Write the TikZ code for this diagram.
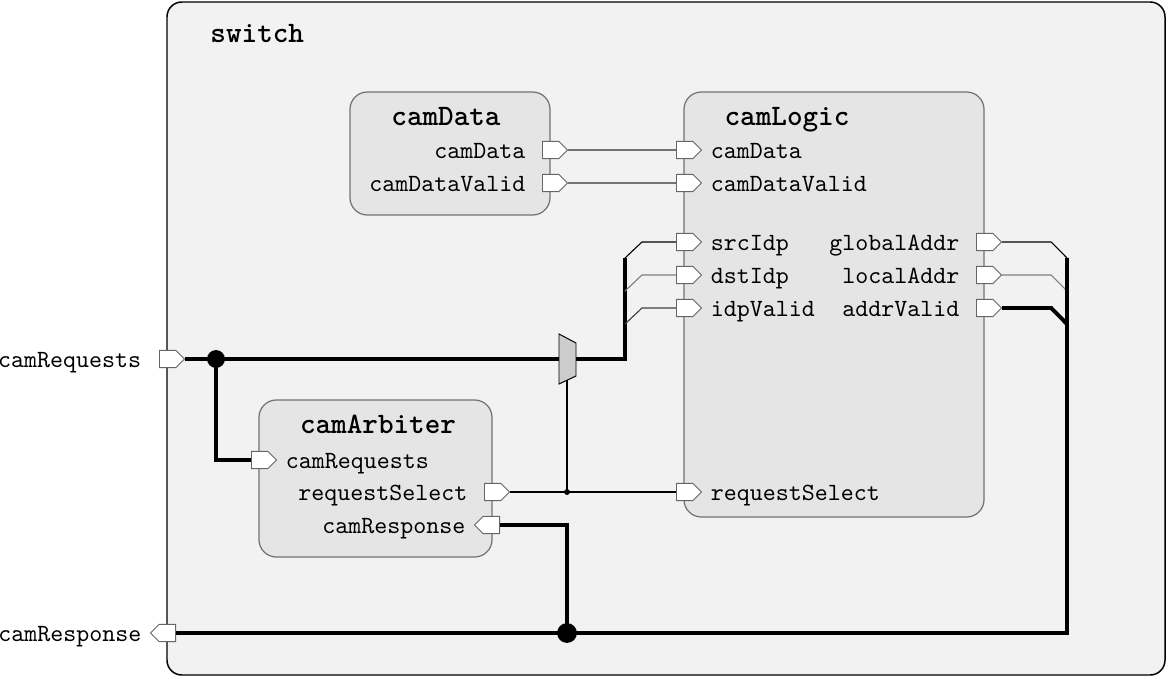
\documentclass[tikz,border=0pt]{standalone}
\usetikzlibrary{shapes.symbols,positioning}

\begin{document}
\begin{tikzpicture}[x=0.404pt,y=-0.404pt,
  font=\ttfamily,
  top/.style = {draw=black, fill=black!5, rounded corners=6pt, line width=0.6pt},
  block/.style = {draw=black!55, fill=black!10, rounded corners=7pt, line width=0.5pt},
  title/.style = {font=\ttfamily\bfseries\large, inner sep=0pt, text height=8pt, text depth=2pt},
  lbl/.style = {inner sep=0pt, text height=6.9pt, text depth=0pt},
  portR/.style = {signal, signal to=east, draw=black!60, fill=white, line width=0.4pt,
                  minimum width=10.1pt, minimum height=7pt, inner sep=0pt},
  portL/.style = {portR, signal to=west},
  wire/.style = {line width=0.45pt},
  bus/.style = {line width=1.6pt},
  joint/.style = {circle, fill=black, inner sep=0pt, minimum size=#1},
  ]
  \useasboundingbox (0,0) rectangle (1168,677);

  % boxes
  \draw[top] (167,2) rectangle (1165,675);
  \node[title, anchor=west] (tSwitch) at (210,35) {switch};
  \draw[block] (350,92) rectangle (550,215);
  \node[title] (tData) at (446,118) {camData};
  \draw[block] (684,92) rectangle (984,517);
  \node[title] (tLogic) at (787,118) {camLogic};
  \draw[block] (259,400) rectangle (492,557);
  \node[title] (tArb) at (378,426) {camArbiter};

  % ports
  \node[portR, anchor=west] (pReq) at (159,359) {};
  \node[portL, anchor=east] (pResp) at (176,633) {};
  \node[portR, anchor=west] (cdData) at (542,150) {};
  \node[portR, anchor=west] (cdValid) at (542,183) {};
  \node[portR, anchor=west] (clData) at (676,150) {};
  \node[portR, anchor=west] (clValid) at (676,183) {};
  \node[portR, anchor=west] (clSrc) at (676,242) {};
  \node[portR, anchor=west] (clDst) at (676,275) {};
  \node[portR, anchor=west] (clIdp) at (676,308) {};
  \node[portR, anchor=west] (clSel) at (676,492) {};
  \node[portR, anchor=west] (clGlob) at (976,242) {};
  \node[portR, anchor=west] (clLoc) at (976,275) {};
  \node[portR, anchor=west] (clAddr) at (976,308) {};
  \node[portR, anchor=west] (caReq) at (251,460) {};
  \node[portR, anchor=west] (caSel) at (484,492) {};
  \node[portL, anchor=east] (caResp) at (500,525) {};

  % port labels
  \node[lbl, left=7pt of pReq.west] {camRequests};
  \node[lbl, left=3.2pt of pResp.west] {camResponse};
  \node[lbl, left=6.5pt of cdData.west] {camData};
  \node[lbl, left=6.5pt of cdValid.west] {camDataValid};
  \node[lbl, right=3.3pt of clData.east] {camData};
  \node[lbl, right=3.3pt of clValid.east] {camDataValid};
  \node[lbl, right=3.3pt of clSrc.east] {srcIdp};
  \node[lbl, right=3.3pt of clDst.east] {dstIdp};
  \node[lbl, right=3.3pt of clIdp.east] {idpValid};
  \node[lbl, right=3.3pt of clSel.east] {requestSelect};
  \node[lbl, left=6.5pt of clGlob.west] {globalAddr};
  \node[lbl, left=6.5pt of clLoc.west] {localAddr};
  \node[lbl, left=6.5pt of clAddr.west] {addrValid};
  \node[lbl, right=3.3pt of caReq.east] {camRequests};
  \node[lbl, left=6.5pt of caSel.west] {requestSelect};
  \node[lbl, left=3.2pt of caResp.west] {camResponse};

  % mux
  \draw[fill=black!20, line width=0.4pt] (559,334) -- (576,343) -- (576,376) -- (559,384) -- cycle;
  \coordinate (muxIn) at (559,359);
  \coordinate (muxOut) at (576,359);
  \coordinate (muxSel) at (567,380);

  % junctions and bus ends
  \coordinate (jReq) at (216,359);
  \coordinate (jSel) at (567,492);
  \coordinate (jResp) at (567,633);
  \coordinate (busL) at (625,258);
  \coordinate (busR) at (1067,258);

  % wires
  \draw[wire, black!55] (cdData.east) -- (clData.west);
  \draw[wire, black!55] (cdValid.east) -- (clValid.west);
  \draw[bus] (pReq.east) -- (muxIn);
  \draw[bus] (jReq) |- (caReq.west);
  \draw[bus] (muxOut) -| (busL);
  \draw[wire] (busL) -- ++(17,-16) -- (clSrc.west);
  \draw[wire, black!50] (625,291) -- ++(17,-16) -- (clDst.west);
  \draw[wire, black!75] (625,324) -- ++(17,-16) -- (clIdp.west);
  \draw[wire] (caSel.east) -- (clSel.west);
  \draw[wire] (muxSel) -- (jSel);
  \draw[wire] (clGlob.east) -- ++(49,0) -- (busR);
  \draw[wire, black!50] (clLoc.east) -- ++(49,0) -- (1067,291);
  \draw[bus] (clAddr.east) -- ++(49,0) -- (1067,324);
  \draw[bus] (busR) |- (pResp.east);
  \draw[bus] (caResp.east) -| (jResp);

  \node[joint=7.2pt] at (jReq) {};
  \node[joint=2.4pt] at (jSel) {};
  \node[joint=8pt] at (jResp) {};
\end{tikzpicture}
\end{document}
